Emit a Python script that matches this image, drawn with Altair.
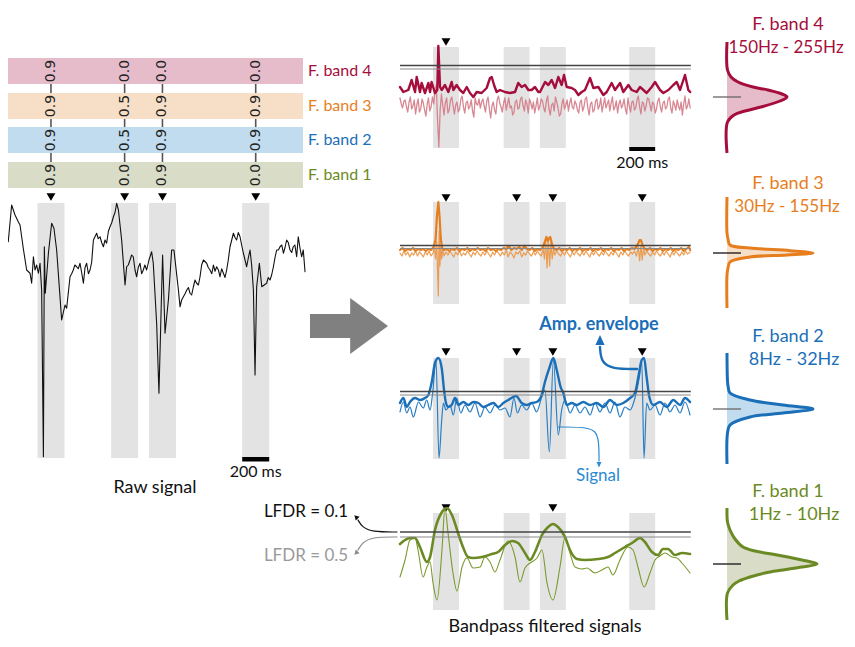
import altair as alt
import pandas as pd

# ---------------------------------------------------------------- data
band_names = ["F. band 1", "F. band 2", "F. band 3", "F. band 4"]
band_ranges = ["1Hz - 10Hz", "8Hz - 32Hz", "30Hz - 155Hz", "150Hz - 255Hz"]
band_colors = ["#6b8a23", "#1a6fb8", "#e67e1e", "#a50d3c"]
band_fills = ["#d9dcc6", "#c1dcee", "#f7dfc7", "#e6bccb"]
band_sig_colors = ["#7a9a2e", "#2a7fc4", "#eb9440", "#d47a86"]

events_ms = [355, 900, 1180, 1870]
window_ms = 200
scalebar_ms = 200

lfdr_band1 = [0.9, 0.0, 0.9, 0.0]
lfdr_band2 = [0.9, 0.5, 0.9, 0.9]
lfdr_band3 = [0.9, 0.5, 0.9, 0.9]
lfdr_band4 = [0.9, 0.0, 0.0, 0.0]

detected_band1 = [1, 0, 1, 0]
detected_band2 = [1, 1, 1, 1]
detected_band3 = [1, 1, 1, 1]
detected_band4 = [1, 0, 0, 0]

# raw signal (time ms, amplitude uV)
raw_t = [0, 27, 39, 64, 89, 113, 126, 150, 175, 200,
         212, 225, 237, 249, 262, 274, 286, 299, 306, 313,
         336, 360, 377, 397, 434, 459, 471, 496, 520, 545,
         570, 595, 619, 644, 669, 693, 718, 743, 767, 792,
         817, 841, 854, 878, 903, 915, 940, 964, 989, 1014,
         1038, 1063, 1100, 1112, 1137, 1154, 1174, 1181, 1199, 1224,
         1248, 1265, 1298, 1310, 1335, 1360, 1384, 1409, 1433, 1458,
         1483, 1507, 1532, 1581, 1606, 1631, 1655, 1680, 1705, 1729,
         1754, 1779, 1803, 1828, 1853, 1865, 1877, 1897, 1915, 1951,
         1976, 2001, 2025, 2050, 2075, 2099, 2124, 2148, 2173, 2185,
         2210, 2222, 2235]
raw_v = [-20, 40, 33, 180, 140, 113, 100, 7, -80, -93,
         -133, -27, -80, -60, -93, -53, -160, -827, 13, -173,
         -13, 107, 87, 0, -280, -220, -233, -107, -80, -67,
         -53, -133, -53, -80, 40, 67, 53, 13, 27, 93,
         133, 187, 160, 40, -140, -67, -40, -27, -107, -53,
         -80, -80, -7, -53, -293, -573, -160, -20, -333, -200,
         0, 0, -160, -227, -187, -160, -173, -147, -133, -107,
         -40, -53, -80, -67, -107, -93, -80, 13, 67, 40,
         53, -13, -67, 0, -160, -500, -147, -53, -147, -133,
         -120, -67, 0, 13, -13, 40, 0, 13, -27, 53,
         -27, 0, -87]
# small wiggles of the raw trace, read between the points above
raw_wiggles = [(508, -95), (532, -60), (557, -75), (582, -90), (607, -70), (632, -95), (656, -50),
               (705, 45), (730, 30), (755, 40), (780, 75), (805, 110), (829, 150),
               (927, -60), (952, -20), (977, -80), (1001, -70), (1026, -95), (1050, -60), (1080, -40),
               (1322, -200), (1347, -175), (1372, -150), (1396, -180), (1421, -120), (1446, -140), (1470, -60),
               (1519, -70), (1545, -95), (1557, -60), (1569, -85), (1594, -80), (1618, -75), (1643, -110),
               (1667, -40), (1717, 50), (1741, 70), (1766, 20), (1791, -40), (1816, -30), (1840, -60),
               (1963, -110), (1988, -100), (2013, -30), (2038, 0), (2063, 20), (2087, 10), (2111, 30),
               (2136, -10), (2160, 20), (2197, 10)]

# band 4 (150-255 Hz)
b4_env_t = [0, 26, 64, 90, 116, 129, 154, 167, 193, 219,
            232, 244, 270, 288, 296, 309, 322, 347, 373, 399,
            412, 437, 463, 489, 515, 540, 566, 592, 630, 669,
            695, 708, 726, 746, 772, 810, 849, 888, 913, 939,
            965, 991, 1016, 1042, 1068, 1081, 1120, 1145, 1171, 1197,
            1222, 1248, 1266, 1287, 1325, 1351, 1377, 1403, 1428, 1467,
            1493, 1531, 1570, 1596, 1634, 1660, 1699, 1724, 1763, 1789,
            1827, 1853, 1879, 1904, 1943, 1969, 2007, 2033, 2072, 2110,
            2136, 2162, 2200, 2226, 2240]
b4_env_v = [13, 8, 10, 20, 8, 23, 8, 17, 7, 17,
            8, 18, 7, 10, 54, 13, 10, 15, 8, 18,
            10, 15, 10, 7, 13, 7, 3, 8, 7, 12,
            22, 23, 15, 8, 10, 8, 7, 8, 17, 13,
            15, 10, 10, 13, 8, 8, 18, 15, 20, 12,
            23, 15, 25, 13, 12, 10, 5, 8, 10, 22,
            12, 13, 5, 8, 17, 10, 17, 8, 15, 10,
            8, 13, 10, 7, 13, 18, 10, 7, 10, 15,
            18, 10, 25, 10, 8]
b4_sig_t = list(range(0, 2241, 10))
b4_sig_v = [2, -4, -8, -1, 0, -7, -12, -2, 3, -9, -6, 0, -14, -5, 1, -12, -9, 1, -3, -10,
            -16, -4, 2, -11, -7, 3, -4, 8, 15, -20, -47, -10, 6, -5, -15, -3, 2, -13, -10, 0,
            3, -6, -14, -5, -2, -12, -9, 1, 4, -7, -13, -3, -1, -9, -6, 0, -11, -17, 2, -4,
            -5, 1, -8, -2, 1, -6, -12, -1, 3, -9, -18, -6, -2, -10, -14, 0, 4, -3, -7, -12,
            -3, 2, -10, -4, 2, -8, -6, -15, -12, -2, 0, -9, -8, 1, 3, -6, -11, 0, -4, -13,
            1, -3, -9, -2, -13, -6, 2, -10, -6, 1, -1, -8, -12, -1, 4, -9, -15, -5, -3, -11,
            3, -2, -8, -16, -14, -4, 1, -9, -5, 0, -11, -3, 2, -7, -9, -1, -4, -10, -13, -2,
            0, -11, -7, 1, 3, -8, -15, -4, -2, -12, -10, -1, 1, -9, -6, 2, -12, -5, 2, -8,
            -4, 0, -11, -3, 3, -10, -7, -1, -13, -4, 0, -8, -5, 1, -9, -14, 2, -6, -12, -2,
            -1, -10, -8, 0, 4, -7, -14, -2, -3, -11, -6, 2, 1, -5, -11, -2, -4, -13, -9, -1,
            2, -7, -12, -3, -1, -9, -7, 1, 3, -8, -13, -1, -5, -10, 0, -6, -10, -2, -15, -4,
            4, -9, -6, 1, -8]

# band 3 (30-155 Hz): (time ms, amplitude)
b3_env = [(0, 1), (20, 3), (40, 0), (60, 2), (80, 1), (100, 3), (120, 0), (140, 2), (160, 1), (180, 2),
          (200, 0), (220, 2), (240, 1), (260, 4), (275, 12), (285, 35), (296, 49), (305, 35), (315, 12), (325, 3),
          (340, 1), (360, 2), (380, 0), (400, 2), (420, 1), (440, 3), (460, 0), (480, 2), (500, 1), (520, 3),
          (540, 0), (560, 2), (580, 1), (600, 3), (620, 1), (640, 2), (660, 0), (680, 3), (700, 1), (720, 2),
          (740, 0), (760, 2), (780, 1), (800, 3), (820, 2), (840, 5), (860, 1), (880, 3), (900, 2), (920, 4),
          (940, 1), (960, 5), (980, 2), (1000, 1), (1020, 3), (1040, 0), (1060, 2), (1080, 1), (1100, 3), (1115, 8),
          (1130, 14), (1140, 10), (1150, 13), (1160, 14), (1175, 6), (1190, 2), (1210, 1), (1230, 3), (1250, 0), (1270, 2),
          (1290, 1), (1310, 3), (1330, 0), (1350, 2), (1370, 1), (1390, 3), (1410, 0), (1430, 2), (1450, 1), (1470, 3),
          (1490, 0), (1510, 2), (1530, 1), (1550, 3), (1570, 0), (1590, 2), (1610, 1), (1630, 3), (1650, 0), (1670, 2),
          (1690, 1), (1710, 3), (1730, 0), (1750, 2), (1770, 1), (1790, 3), (1810, 2), (1830, 5), (1850, 11), (1860, 11),
          (1875, 5), (1890, 2), (1910, 1), (1930, 3), (1950, 0), (1970, 2), (1990, 1), (2010, 3), (2030, 0), (2050, 2),
          (2070, 1), (2090, 3), (2110, 0), (2130, 2), (2150, 1), (2170, 3), (2190, 0), (2210, 2), (2230, 4), (2240, 1)]
b3_sig = [(0, -2), (15, -5), (30, 0), (45, -4), (60, -1), (75, -6), (90, -2), (105, -4), (120, 0), (135, -5),
          (150, -1), (165, -3), (180, -6), (195, -1), (210, -4), (225, 0), (240, -5), (255, -2), (265, 3), (275, -8),
          (283, 10), (290, -20), (296, -45), (302, 20), (308, -15), (315, 5), (322, -8), (330, 2), (340, -5), (355, -1),
          (370, -4), (385, 0), (400, -3), (415, -6), (430, -1), (445, -4), (460, 0), (475, -5), (490, -2), (505, -4),
          (520, 0), (535, -3), (550, -6), (565, -1), (580, -4), (595, 0), (610, -3), (625, -5), (640, -1), (655, -4),
          (670, 0), (685, -3), (700, -6), (715, -1), (730, -4), (745, 0), (760, -2), (775, -5), (790, -1), (805, -4),
          (820, 1), (835, -6), (850, -1), (865, -3), (880, -7), (895, -1), (910, -3), (925, 0), (940, -6), (955, -2),
          (970, -4), (985, 0), (1000, -3), (1015, -5), (1030, -1), (1045, -4), (1060, 0), (1075, -3), (1090, -5), (1105, 2),
          (1115, -8), (1125, 10), (1135, -17), (1145, 12), (1155, -15), (1165, 8), (1175, -8), (1185, 2), (1195, -4), (1210, 0),
          (1225, -3), (1240, -5), (1255, -1), (1270, -4), (1285, 0), (1300, -3), (1315, -6), (1330, -1), (1345, -4), (1360, 0),
          (1375, -3), (1390, -5), (1405, -1), (1420, -4), (1435, 0), (1450, -3), (1465, -6), (1480, -1), (1495, -4), (1510, 0),
          (1525, -3), (1540, -5), (1555, -1), (1570, -4), (1585, 0), (1600, -3), (1615, -5), (1630, -1), (1645, -4), (1660, 0),
          (1675, -3), (1690, -6), (1705, -1), (1720, -4), (1735, 0), (1750, -3), (1765, -5), (1780, -1), (1795, -3), (1810, 0),
          (1825, -5), (1840, 4), (1850, -10), (1860, 6), (1870, -9), (1880, 2), (1890, -4), (1905, 0), (1920, -3), (1935, -5),
          (1950, -1), (1965, -4), (1980, 0), (1995, -3), (2010, -5), (2025, -1), (2040, -4), (2055, 0), (2070, -3), (2085, -6),
          (2100, -1), (2115, -4), (2130, 0), (2145, -3), (2160, -5), (2175, -1), (2190, -4), (2205, 0), (2220, -3), (2240, -1)]

# band 2 (8-32 Hz)
b2_env = [(0, 2), (26, 7), (52, -2), (77, 3), (116, 7), (155, 5), (193, 7), (219, 10), (245, 23), (270, 42),
          (296, 47), (322, 37), (340, 15), (355, 2), (373, -2), (399, 0), (425, 7), (450, 0), (489, 3), (528, 0),
          (566, 3), (605, 2), (643, -2), (682, 0), (721, 2), (759, -2), (798, 2), (836, 5), (896, 9), (939, 2),
          (978, 0), (1017, 2), (1055, 3), (1094, 10), (1119, 23), (1153, 37), (1184, 47), (1210, 35), (1240, 18), (1261, 12),
          (1287, 0), (1326, 2), (1364, 0), (1415, 3), (1467, 0), (1518, 2), (1570, -2), (1621, 5), (1673, 0), (1724, 2),
          (1776, 7), (1814, 12), (1840, 28), (1866, 45), (1884, 47), (1904, 28), (1925, 8), (1956, 0), (2007, 3), (2059, -2),
          (2110, 5), (2162, 0), (2200, 7), (2239, 3)]
b2_sig = [(0, -7), (26, 3), (52, -8), (77, -2), (103, -12), (142, 3), (180, -3), (206, 5), (232, -5), (252, 12),
          (278, 45), (301, -53), (322, -15), (335, 2), (355, -5), (386, 0), (412, -10), (438, 7), (469, -8), (502, 0),
          (541, -7), (579, 2), (618, -12), (656, -2), (695, -8), (734, 0), (772, -5), (811, -3), (849, -12), (880, 7),
          (906, -8), (939, 0), (978, -5), (1017, 2), (1055, -7), (1094, 8), (1119, 15), (1153, -47), (1184, 45), (1222, -30),
          (1248, -5), (1274, 5), (1313, -8), (1351, 0), (1390, -8), (1428, -2), (1467, -10), (1505, 2), (1544, -7), (1582, 2),
          (1621, -8), (1660, 3), (1698, -12), (1737, -2), (1776, -5), (1814, 7), (1848, 28), (1866, 45), (1884, -53), (1904, 2),
          (1930, -5), (1969, 0), (2007, -10), (2046, 2), (2084, -7), (2123, 0), (2162, -8), (2200, 3), (2239, -10)]

# band 1 (1-10 Hz)
b1_env = [(0, 16), (39, 20), (77, 22), (116, 22), (154, 13), (208, -2), (232, 3), (270, 30), (324, 48), (363, 52),
          (401, 45), (448, 27), (486, 13), (525, 3), (564, 2), (633, 3), (710, 6), (757, 8), (811, 15), (865, 19),
          (911, 17), (965, 7), (1004, 0), (1042, 8), (1096, 25), (1143, 33), (1181, 36), (1220, 33), (1274, 23), (1312, 10),
          (1366, 1), (1428, 0), (1529, 1), (1606, 3), (1660, 7), (1737, 13), (1791, 17), (1853, 22), (1891, 18), (1945, 8),
          (1992, 5), (2030, 11), (2069, 11), (2123, 5), (2177, 7), (2239, 6)]
b1_sig = [(0, -17), (39, 0), (77, 20), (116, 22), (139, 10), (178, -17), (208, -7), (232, -2), (255, -23), (286, -40),
          (324, 10), (347, 52), (371, 27), (409, -13), (440, -31), (479, -7), (517, 2), (564, -8), (618, -7), (656, 3),
          (695, -2), (733, -12), (772, 0), (834, 19), (888, 3), (926, -22), (965, -8), (1004, -3), (1058, 2), (1096, 10),
          (1135, -23), (1181, -40), (1235, -7), (1274, 23), (1312, 7), (1351, -7), (1405, -9), (1444, -8), (1505, -13), (1559, -10),
          (1606, -7), (1644, -15), (1698, 0), (1760, 13), (1799, 10), (1837, -7), (1884, -27), (1930, -13), (1969, 0), (2007, 4),
          (2046, 7), (2100, 3), (2138, 2), (2177, -3), (2239, -13)]

# power spectra of the band-pass filters (relative frequency bin, power)
spec_band1 = [(-56, 0), (-42, 0.5), (-34, 3), (-25, 8), (-17, 16), (-13, 28), (-9, 50), (-4, 75), (0, 90),
              (3, 75), (6, 56), (9, 38), (13, 23), (17, 12), (21, 6), (29, 0.5), (56, 0)]
spec_band2 = [(-56, 0), (-28, 0.5), (-22, 1.2), (-16, 3), (-9, 23), (-4, 56), (0, 86), (4, 56), (8, 23),
              (16, 3), (24, 0.5), (55, 0)]
spec_band3 = [(-56, 0), (-20, 0), (-14, 1), (-8, 3), (-5, 23), (-2.3, 63), (0, 86), (2, 60), (4, 23),
              (9, 3), (15, 1), (22, 0), (55, 0)]
spec_band4 = [(-55, 0), (-27, 0.5), (-20, 4), (-15, 11), (-10, 26), (-7, 41), (-3, 55), (0, 60), (4, 53),
              (10, 34), (14, 18), (18, 7), (25, 0.5), (56, 0)]

# ---------------------------------------------------------------- layout (page pixels)
LEFT_X0, LEFT_MS_PER_PX = 3, 7.4
RAW_BASE, RAW_UV_PER_PX = 250, 4.0
RIGHT_X0, RIGHT_MS_PER_PX = 400, 7.72
TABLE_X = (2, 303)
TABLE_ROWS = {3: (58, 84), 2: (93, 119), 1: (127, 153), 0: (162, 188)}
PANEL = {  # baseline, shade top, shade bottom, thr1, thr2, marker y
    3: (100, 47, 148, 65.5, 69.0, 42),
    2: (251, 202, 304, 245.5, 248.5, 198),
    1: (405, 358, 459, 391.5, 395.0, 352),
    0: (560, 513, 610, 532.0, 537.0, 508),
}
SPEC_X0 = 727
SPEC_CENTER = {3: 97, 2: 253, 1: 409, 0: 564}
TITLE_Y = {3: (25, 48), 2: (184, 207), 1: (337, 360), 0: (492, 515)}
RANGE_X = {3: 786, 2: 787, 1: 794, 0: 794}
RANGE_SIZE = {3: 17, 2: 17, 1: 18, 0: 18}

xs = alt.Scale(domain=[8, 847], nice=False, zero=False)
ys = alt.Scale(domain=[8, 639], nice=False, zero=False, reverse=True)
X = alt.X("x:Q", scale=xs, axis=None)
Y = alt.Y("y:Q", scale=ys, axis=None)


def lx(t):
    return LEFT_X0 + t / LEFT_MS_PER_PX


def rx(t):
    return RIGHT_X0 + t / RIGHT_MS_PER_PX


def line(xv, yv, color, width, interp="linear", opacity=1.0):
    df = pd.DataFrame({"x": xv, "y": yv, "i": range(len(xv))})
    return alt.Chart(df).mark_line(color=color, strokeWidth=width, interpolate=interp,
                                   opacity=opacity, strokeJoin="round", strokeCap="round"
                                   ).encode(x=X, y=Y, order="i:Q")


def rects(rows):
    return alt.Chart(pd.DataFrame(rows)).mark_rect().encode(
        x=X, x2="x2:Q", y=Y, y2="y2:Q", color=alt.Color("c:N", scale=None))


def rules(rows, color, width):
    return alt.Chart(pd.DataFrame(rows)).mark_rule(color=color, strokeWidth=width).encode(
        x=X, x2="x2:Q", y=Y, y2="y2:Q")


def texts(rows, font="Lato", align="center", weight="normal"):
    df = pd.DataFrame(rows)
    if "a" not in df:
        df["a"] = 0
    return alt.Chart(df).mark_text(font=font, align=align, baseline="middle", fontWeight=weight).encode(
        x=X, y=Y, text="t:N", color=alt.Color("c:N", scale=None),
        size=alt.Size("s:Q", scale=None), angle=alt.Angle("a:Q", scale=None))


def markers(xv, yv, shape="triangle-down", size=80, color="black", angle=0):
    df = pd.DataFrame({"x": xv, "y": yv})
    return alt.Chart(df).mark_point(shape=shape, filled=True, size=size, color=color,
                                    opacity=1, angle=angle, strokeWidth=0).encode(x=X, y=Y)


layers = []

# ---- left: LFDR table
lfdr_all = [lfdr_band1, lfdr_band2, lfdr_band3, lfdr_band4]
ev_left = [lx(e) for e in events_ms]
layers.append(rules([{"x": ex, "x2": ex, "y": 58, "y2": 188} for ex in ev_left], "#555555", 1.6))
layers.append(rects([{"x": TABLE_X[0], "x2": TABLE_X[1], "y": TABLE_ROWS[b][0], "y2": TABLE_ROWS[b][1],
                      "c": band_fills[b]} for b in range(4)]))
num_rows = []
for b in range(4):
    yc = sum(TABLE_ROWS[b]) / 2
    for ex, val in zip(ev_left, lfdr_all[b]):
        num_rows.append({"x": ex, "y": yc, "t": f"{val:.1f}", "c": "#222222", "s": 14, "a": 270})
layers.append(texts(num_rows, font="DejaVu Sans"))
layers.append(texts([{"x": 308, "y": sum(TABLE_ROWS[b]) / 2, "t": band_names[b], "c": band_colors[b], "s": 16}
                     for b in range(4)], align="left"))

# ---- left: raw signal
layers.append(rects([{"x": lx(e - window_ms / 2), "x2": lx(e + window_ms / 2), "y": 203, "y2": 458,
                      "c": "#e3e3e3"} for e in events_ms]))
layers.append(markers(ev_left, [197] * 4))
raw_pts = sorted(list(zip(raw_t, raw_v)) + raw_wiggles)
layers.append(line([lx(t) for t, v in raw_pts], [RAW_BASE - v / RAW_UV_PER_PX for t, v in raw_pts], "#111111", 1.1))
sb0 = events_ms[3] - window_ms / 2
layers.append(rects([{"x": lx(sb0), "x2": lx(sb0 + scalebar_ms), "y": 457, "y2": 461.5, "c": "#000000"}]))
layers.append(texts([{"x": lx(sb0 + scalebar_ms / 2), "y": 472, "t": "200 ms", "c": "#111111", "s": 16},
                     {"x": 155, "y": 488, "t": "Raw signal", "c": "#111111", "s": 18}]))

# ---- big arrow
arrow_path = "M -1 -0.31 L 0.03 -0.31 L 0.03 -0.72 L 1 0 L 0.03 0.72 L 0.03 0.31 L -1 0.31 Z"
layers.append(markers([349], [326], shape=arrow_path, size=6084, color="#808080"))

# ---- right panels
detected_all = [detected_band1, detected_band2, detected_band3, detected_band4]
for b in range(4):
    base, st, sbm, th1, th2, my = PANEL[b]
    layers.append(rects([{"x": rx(e - window_ms / 2), "x2": rx(e + window_ms / 2), "y": st, "y2": sbm,
                          "c": "#e3e3e3"} for e in events_ms]))
    det = [rx(e) for e, d in zip(events_ms, detected_all[b]) if d]
    layers.append(markers(det, [my] * len(det)))

# band 4 traces
base4 = PANEL[3][0]
layers.append(line([rx(t) for t in b4_sig_t], [base4 - v for v in b4_sig_v], band_sig_colors[3], 1.3, opacity=0.9))
layers.append(line([rx(t) for t in b4_env_t], [base4 - v for v in b4_env_v], band_colors[3], 2.4))
# band 3 traces
base3 = PANEL[2][0]
layers.append(line([rx(t) for t, v in b3_sig], [base3 - v for t, v in b3_sig], band_sig_colors[2], 1.2, opacity=0.9))
layers.append(line([rx(t) for t, v in b3_env], [base3 - v for t, v in b3_env], band_colors[2], 2.2))
# band 2 traces
base2 = PANEL[1][0]
layers.append(line([rx(t) for t, v in b2_sig], [base2 - v for t, v in b2_sig], band_sig_colors[1], 1.2, "monotone"))
layers.append(line([rx(t) for t, v in b2_env], [base2 - v for t, v in b2_env], band_colors[1], 2.4, "monotone"))
# band 1 traces
base1 = PANEL[0][0]
layers.append(line([rx(t) for t, v in b1_sig], [base1 - v for t, v in b1_sig], band_sig_colors[0], 1.1, "monotone"))
layers.append(line([rx(t) for t, v in b1_env], [base1 - v for t, v in b1_env], band_colors[0], 2.6, "monotone"))

# threshold lines (LFDR = 0.1 dark, LFDR = 0.5 light)
layers.append(rules([{"x": rx(0), "x2": rx(2245), "y": PANEL[b][3], "y2": PANEL[b][3]} for b in range(4)],
                    "#444444", 1.5))
layers.append(rules([{"x": rx(0), "x2": rx(2245), "y": PANEL[b][4], "y2": PANEL[b][4]} for b in range(4)],
                    "#8a8a8a", 1.2))

# scale bar under band 4
layers.append(rects([{"x": rx(sb0), "x2": rx(sb0 + scalebar_ms), "y": 147, "y2": 151, "c": "#000000"}]))
layers.append(texts([{"x": rx(sb0 + scalebar_ms / 2), "y": 163, "t": "200 ms", "c": "#111111", "s": 16},
                     {"x": 545, "y": 627, "t": "Bandpass filtered signals", "c": "#111111", "s": 18}]))

# annotations: amp envelope / signal
layers.append(line([637, 612, 601, 600], [369, 369, 362, 347], band_colors[1], 2.4, "basis"))
layers.append(markers([600], [341], shape="M 0 -1 L 0.75 0.65 L -0.75 0.65 Z", size=150, color=band_colors[1]))
layers.append(line([558, 592, 599, 599], [427, 427, 436, 461], "#2b8ad2", 1.2, "basis"))
layers.append(markers([599], [464], shape="M 0 1 L 0.7 -0.6 L -0.7 -0.6 Z", size=50, color="#2b8ad2"))
layers.append(texts([{"x": 599, "y": 325, "t": "Amp. envelope", "c": band_colors[1], "s": 18}], weight="bold"))
layers.append(texts([{"x": 598, "y": 476, "t": "Signal", "c": "#2b8ad2", "s": 17}]))

# LFDR annotations
layers.append(line([397, 372, 362, 358], [532, 532, 527, 520], "#111111", 1.2, "basis"))
layers.append(markers([356], [517], shape="triangle-up", size=30, color="#111111", angle=315))
layers.append(line([397, 372, 362, 358], [537, 537, 543, 550], "#8a8a8a", 1.2, "basis"))
layers.append(markers([356], [553], shape="triangle-up", size=30, color="#8a8a8a", angle=225))
layers.append(texts([{"x": 306, "y": 512, "t": "LFDR = 0.1", "c": "#111111", "s": 17},
                     {"x": 306, "y": 556, "t": "LFDR = 0.5", "c": "#9a9a9a", "s": 17}]))

# ---- spectra
spec_all = [spec_band1, spec_band2, spec_band3, spec_band4]
tick_colors = ["#111111", "#666666", "#111111", "#666666"]
for b in range(4):
    yc = SPEC_CENTER[b]
    df = pd.DataFrame({"x": [SPEC_X0 + p for o, p in spec_all[b]],
                       "x0": [SPEC_X0] * len(spec_all[b]),
                       "y": [yc + o for o, p in spec_all[b]],
                       "i": range(len(spec_all[b]))})
    layers.append(alt.Chart(df).mark_area(orient="horizontal", color=band_fills[b], opacity=1,
                                          interpolate="catmull-rom").encode(y=Y, x=X, x2="x0:Q"))
    layers.append(rules([{"x": 713, "x2": 741, "y": yc, "y2": yc}], tick_colors[b], 1.3))
    layers.append(alt.Chart(df).mark_line(color=band_colors[b], strokeWidth=3, interpolate="catmull-rom",
                                          strokeCap="butt").encode(x=X, y=Y, order="i:Q"))
    t1, t2 = TITLE_Y[b]
    layers.append(texts([{"x": 788, "y": t1, "t": band_names[b], "c": band_colors[b], "s": 18},
                         {"x": RANGE_X[b], "y": t2, "t": band_ranges[b], "c": band_colors[b],
                          "s": RANGE_SIZE[b]}]))

chart = alt.layer(*layers).properties(
    width=839, height=631, padding=0, autosize=alt.AutoSizeParams(type="none"), background="white"
).configure_view(stroke=None)

chart.save("out.html", embed_options={"renderer": "svg", "actions": False})
